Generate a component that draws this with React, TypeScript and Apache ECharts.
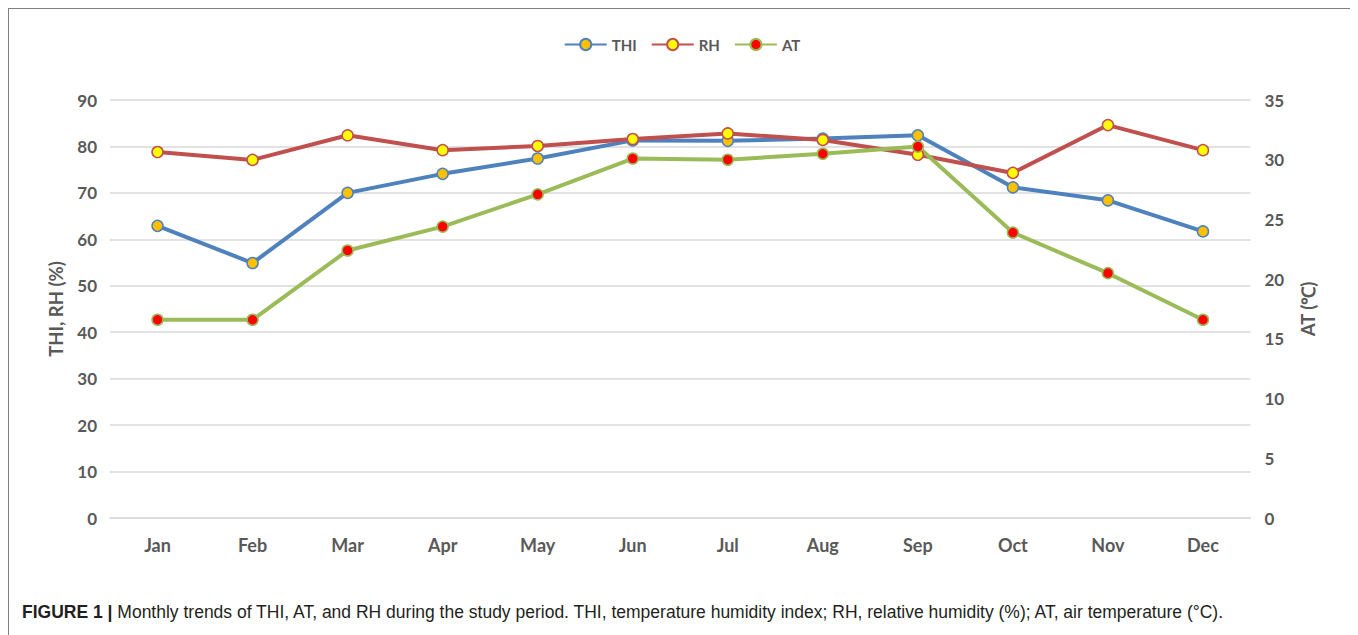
import React, { useEffect, useRef } from "react";
import * as echarts from "echarts";

const months = ["Jan", "Feb", "Mar", "Apr", "May", "Jun", "Jul", "Aug", "Sep", "Oct", "Nov", "Dec"];
const thi = [62.9, 54.9, 70.0, 74.1, 77.4, 81.3, 81.2, 81.7, 82.4, 71.2, 68.4, 61.7];
const rh = [78.8, 77.1, 82.4, 79.2, 80.1, 81.6, 82.8, 81.4, 78.2, 74.3, 84.6, 79.2];
const at = [16.6, 16.6, 22.4, 24.4, 27.1, 30.1, 30.0, 30.5, 31.1, 23.9, 20.5, 16.6];
const leftTicks = { min: 0, max: 90, interval: 10 };
const rightTicks = { min: 0, max: 35, interval: 5 };

const FONT = "Lato, 'Open Sans', sans-serif";
const LABEL = "#595959";

export default function App() {
  const ref = useRef<HTMLDivElement>(null);
  useEffect(() => {
    if (!ref.current) return;
    const chart = echarts.init(ref.current, undefined, { renderer: "svg" });
    const mk = (name: string, data: number[], line: string, fill: string, axis: number) => ({
      name,
      type: "line",
      yAxisIndex: axis,
      data,
      symbol: "circle",
      symbolSize: 11,
      lineStyle: { color: line, width: 4 },
      itemStyle: { color: fill, borderColor: line, borderWidth: 1.5 },
      z: 3,
    });
    chart.setOption({
      animation: false,
      backgroundColor: "#ffffff",
      textStyle: { fontFamily: FONT },
      legend: {
        top: 23,
        left: "center",
        itemWidth: 42,
        itemHeight: 14,
        itemGap: 14,
        textStyle: { color: LABEL, fontWeight: "bold", fontSize: 15, fontFamily: FONT },
        data: ["THI", "RH", "AT"],
      },
      grid: { left: 101, right: 104.5, top: 91, height: 418 },
      xAxis: {
        type: "category",
        data: months,
        boundaryGap: true,
        axisLine: { lineStyle: { color: "#d9d9d9", width: 1.5 } },
        axisTick: { show: false },
        axisLabel: { color: LABEL, fontWeight: "bold", fontSize: 18, margin: 18, fontFamily: FONT },
      },
      yAxis: [
        {
          type: "value",
          ...leftTicks,
          name: "THI, RH (%)",
          nameLocation: "middle",
          nameRotate: 90,
          nameGap: 45,
          nameTextStyle: { color: LABEL, fontWeight: "bold", fontSize: 18.5, fontFamily: FONT },
          axisLine: { show: false },
          axisTick: { show: false },
          axisLabel: { color: LABEL, fontWeight: "bold", fontSize: 17, margin: 13, fontFamily: FONT },
          splitLine: { lineStyle: { color: "#d9d9d9", width: 1.5 } },
        },
        {
          type: "value",
          ...rightTicks,
          position: "right",
          name: "AT (℃)",
          nameLocation: "middle",
          nameRotate: 90,
          nameGap: 48,
          nameTextStyle: { color: LABEL, fontWeight: "bold", fontSize: 18.5, fontFamily: FONT },
          axisLine: { show: false },
          axisTick: { show: false },
          axisLabel: { color: LABEL, fontWeight: "bold", fontSize: 17, margin: 14, fontFamily: FONT },
          splitLine: { show: false },
        },
      ],
      graphic: [
        {
          type: "text",
          left: 13,
          top: 594,
          style: {
            text: "{b|FIGURE 1 |} Monthly trends of THI, AT, and RH during the study period. THI, temperature humidity index; RH, relative humidity (%); AT, air temperature (°C).",
            font: "17.5px 'Liberation Sans', Arial, sans-serif",
            fill: "#231f20",
            rich: {
              b: { fontWeight: "bold", fontSize: 17.5, fontFamily: "'Liberation Sans', Arial, sans-serif", fill: "#231f20" },
            },
          },
        },
      ],
      series: [
        mk("THI", thi, "#4F81BD", "#FFC000", 0),
        mk("RH", rh, "#C0504D", "#FFFF00", 0),
        mk("AT", at, "#9BBB59", "#FF0000", 1),
      ],
    });
    return () => chart.dispose();
  }, []);
  return (
    <div
      style={{
        width: 1348,
        height: 627,
        boxSizing: "border-box",
        borderTop: "1px solid #808080",
        borderLeft: "1px solid #808080",
        borderRight: "1px solid #808080",
      }}
    >
      <div ref={ref} style={{ width: 1346, height: 626 }} />
    </div>
  );
}
